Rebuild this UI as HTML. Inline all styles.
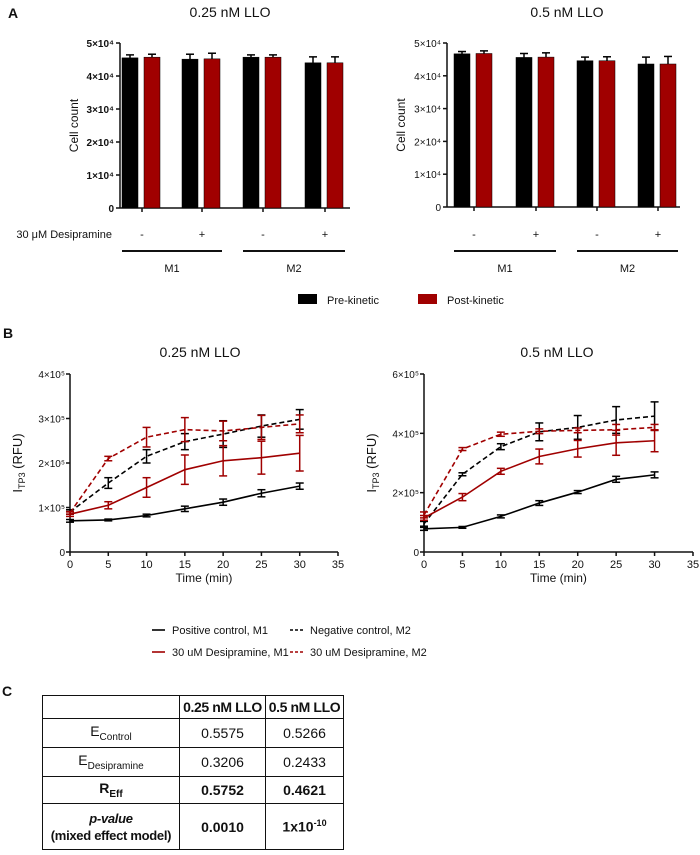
<!DOCTYPE html>
<html><head><meta charset="utf-8">
<style>
html,body{margin:0;padding:0;background:#fff;}
#root{position:relative;width:700px;height:855px;overflow:hidden;font-family:"Liberation Sans",sans-serif;}
svg text{font-family:"Liberation Sans",sans-serif;}
#tbl{position:absolute;left:42px;top:695px;border-collapse:collapse;font-family:"Liberation Sans",sans-serif;font-size:14px;color:#111;table-layout:fixed;}
#tbl td{border:1.5px solid #111;text-align:center;padding:0;white-space:nowrap;overflow:hidden;}
</style></head>
<body>
<div id="root">
<svg id="svg" width="700" height="855" xmlns="http://www.w3.org/2000/svg"></svg>
<table id="tbl">
<tr style="height:23px"><td style="width:136px"></td><td style="width:85px;font-weight:bold;letter-spacing:-0.4px">0.25 nM LLO</td><td style="width:77px;font-weight:bold;letter-spacing:-0.4px">0.5 nM LLO</td></tr>
<tr style="height:29px"><td>E<sub style="font-size:10px">Control</sub></td><td>0.5575</td><td>0.5266</td></tr>
<tr style="height:29px"><td>E<sub style="font-size:10px">Desipramine</sub></td><td>0.3206</td><td>0.2433</td></tr>
<tr style="height:27px;font-weight:bold"><td>R<sub style="font-size:10px">Eff</sub></td><td>0.5752</td><td>0.4621</td></tr>
<tr style="height:46px;font-weight:bold"><td style="font-size:13px;letter-spacing:-0.3px;line-height:17px"><i>p-value</i><br>(mixed effect model)</td><td>0.0010</td><td>1x10<sup style="font-size:9px">-10</sup></td></tr>
</table>
</div>
<script>
// ---- Panel A data ----
const barGroups = ["M1 -", "M1 +", "M2 -", "M2 +"];
const preLeft = [45500, 45100, 45700, 44000];
const postLeft = [45700, 45200, 45700, 44000];
const preLeftErr = [900, 1500, 700, 1800];
const postLeftErr = [900, 1700, 700, 1800];
const preRight = [46700, 45600, 44600, 43600];
const postRight = [46800, 45700, 44600, 43600];
const preRightErr = [700, 1200, 1100, 2100];
const postRightErr = [800, 1300, 1200, 2300];
const barTicks = [0, 10000, 20000, 30000, 40000, 50000];
const barTickLabels = ["0", "1×10⁴", "2×10⁴", "3×10⁴", "4×10⁴", "5×10⁴"];
// ---- Panel B data ----
const times = [0, 5, 10, 15, 20, 25, 30];
const xTicks = [0, 5, 10, 15, 20, 25, 30, 35];
const posM1Left = [70000, 72000, 82000, 97000, 112000, 132000, 148000];
const posM1LeftErr = [3000, 2000, 3000, 6000, 7000, 8000, 7000];
const negM2Left = [90000, 155000, 215000, 248000, 265000, 283000, 298000];
const negM2LeftErr = [5000, 12000, 15000, 18000, 30000, 25000, 22000];
const desM1Left = [85000, 105000, 145000, 185000, 205000, 212000, 222000];
const desM1LeftErr = [5000, 8000, 22000, 33000, 34000, 37000, 40000];
const desM2Left = [88000, 210000, 258000, 275000, 272000, 280000, 288000];
const desM2LeftErr = [3000, 5000, 22000, 27000, 22000, 27000, 20000];
const posM1Right = [78000, 83000, 120000, 165000, 202000, 245000, 260000];
const posM1RightErr = [5000, 3000, 5000, 8000, 5000, 10000, 10000];
const negM2Right = [95000, 262000, 355000, 405000, 420000, 445000, 458000];
const negM2RightErr = [8000, 5000, 10000, 30000, 40000, 45000, 48000];
const desM1Right = [115000, 185000, 272000, 322000, 348000, 368000, 375000];
const desM1RightErr = [8000, 12000, 10000, 25000, 28000, 42000, 37000];
const desM2Right = [125000, 347000, 397000, 407000, 410000, 412000, 420000];
const desM2RightErr = [10000, 5000, 7000, 8000, 8000, 18000, 10000];
const lineTicksLeft = [0, 100000, 200000, 300000, 400000];
const lineTickLabelsLeft = ["0", "1×10⁵", "2×10⁵", "3×10⁵", "4×10⁵"];
const lineTicksRight = [0, 200000, 400000, 600000];
const lineTickLabelsRight = ["0", "2×10⁵", "4×10⁵", "6×10⁵"];

const RED = "#a00000";
const svg = document.getElementById('svg');
const NS = "http://www.w3.org/2000/svg";
function mk(tag, attrs, parent, txt) {
  const e = document.createElementNS(NS, tag);
  for (const k in attrs) e.setAttribute(k, attrs[k]);
  if (txt !== undefined) e.textContent = txt;
  (parent || svg).appendChild(e);
  return e;
}
function text(x, y, s, size, anchor, extra, name) {
  const t = mk('text', Object.assign({x: x, y: y, 'font-size': size, 'text-anchor': anchor || 'start', fill: '#111'}, extra || {}), svg, s);
  
  
  return t;
}

text(8, 18, "A", 14, 'start', {'font-weight': 'bold'}, 'panel-a-label');
text(3, 338, "B", 14, 'start', {'font-weight': 'bold'}, 'panel-b-label');
text(2, 696, "C", 14, 'start', {'font-weight': 'bold'}, 'panel-c-label');

function barChart(o) {
  const g = mk('g', {});
  
  
  const y = v => o.y0 - (v / 50000) * (o.y0 - o.y5);
  text(o.titleX, 17, o.title, 14, 'middle', {}, o.name + '-title');
  mk('line', {x1: o.ax, y1: o.y5, x2: o.ax, y2: o.y0, stroke: '#111', 'stroke-width': 1.5}, g);
  mk('line', {x1: o.ax, y1: o.y0, x2: o.axEnd, y2: o.y0, stroke: '#111', 'stroke-width': 1.5}, g);
  barTicks.forEach((t, i) => {
    mk('line', {x1: o.ax - 4, y1: y(t), x2: o.ax, y2: y(t), stroke: '#111', 'stroke-width': 1.5}, g);
    text(o.ax - 6, y(t) + 4, barTickLabels[i], 10, 'end', o.bold ? {'font-weight': 'bold'} : {}, 'y-tick-label');
  });
  text(o.ax - 42, (o.y0 + o.y5) / 2, "Cell count", 12, 'middle', {transform: `rotate(-90 ${o.ax - 42} ${(o.y0 + o.y5) / 2})`}, 'y-axis-title');
  barGroups.forEach((gname, i) => {
    const c = o.centers[i];
    mk('line', {x1: c, y1: o.y0, x2: c, y2: o.y0 + 4, stroke: '#111', 'stroke-width': 1.5}, g);
    [[o.pre, o.preErr, '#000', c - 20], [o.post, o.postErr, RED, c + 2]].forEach(([vals, errs, col, bx], k) => {
      const v = vals[i], e = errs[i], w = 16;
      const r = mk('rect', {x: bx, y: y(v), width: w, height: o.y0 - y(v), fill: col, stroke: '#000', 'stroke-width': 0.5}, g);
      
      
      mk('line', {x1: bx + w / 2, y1: y(v), x2: bx + w / 2, y2: y(v + e), stroke: '#000', 'stroke-width': 1.5}, g);
      mk('line', {x1: bx + w / 2 - 4, y1: y(v + e), x2: bx + w / 2 + 4, y2: y(v + e), stroke: '#000', 'stroke-width': 1.5}, g);
    });
    text(c, 238, i % 2 ? "+" : "-", 11, 'middle', {}, 'desipramine-sign');
  });
  mk('line', {x1: o.centers[0] - 20, y1: 251, x2: o.centers[1] + 20, y2: 251, stroke: '#111', 'stroke-width': 2}, g);
  mk('line', {x1: o.centers[2] - 20, y1: 251, x2: o.centers[3] + 20, y2: 251, stroke: '#111', 'stroke-width': 2}, g);
  text((o.centers[0] + o.centers[1]) / 2, 272, "M1", 11, 'middle', {}, 'group-m1-label');
  text((o.centers[2] + o.centers[3]) / 2, 272, "M2", 11, 'middle', {}, 'group-m2-label');
}
barChart({name: 'bar-chart-025', title: "0.25 nM LLO", titleX: 230, ax: 120, axEnd: 350, y0: 208, y5: 43,
  centers: [142, 202, 263, 325], pre: preLeft, post: postLeft, preErr: preLeftErr, postErr: postLeftErr, bold: true});
barChart({name: 'bar-chart-05', title: "0.5 nM LLO", titleX: 567, ax: 447, axEnd: 680, y0: 207, y5: 43,
  centers: [474, 536, 597, 658], pre: preRight, post: postRight, preErr: preRightErr, postErr: postRightErr, bold: false});
text(112, 238, "30 μM Desipramine", 11, 'end', {}, 'desipramine-row-label');
let r1 = mk('rect', {x: 298, y: 294, width: 19, height: 10, fill: '#000'});  
text(327, 304, "Pre-kinetic", 11, 'start', {}, 'legend-pre-kinetic');
let r2 = mk('rect', {x: 418, y: 294, width: 19, height: 10, fill: RED});  
text(447, 304, "Post-kinetic", 11, 'start', {}, 'legend-post-kinetic');

function lineChart(o) {
  const g = mk('g', {});
  
  
  const x = t => o.ax + t / 35 * (o.x35 - o.ax);
  const y = v => o.y0 - v / o.ymax * (o.y0 - o.ytop);
  text(o.titleX, 357, o.title, 14, 'middle', {}, o.name + '-title');
  mk('line', {x1: o.ax, y1: o.ytop, x2: o.ax, y2: o.y0, stroke: '#111', 'stroke-width': 1.5}, g);
  mk('line', {x1: o.ax, y1: o.y0, x2: o.x35, y2: o.y0, stroke: '#111', 'stroke-width': 1.5}, g);
  o.yt.forEach((t, i) => {
    mk('line', {x1: o.ax - 4, y1: y(t), x2: o.ax, y2: y(t), stroke: '#111', 'stroke-width': 1.5}, g);
    text(o.ax - 5, y(t) + 4, o.ytl[i], 10, 'end', {}, 'y-tick-label');
  });
  xTicks.forEach(t => {
    mk('line', {x1: x(t), y1: o.y0, x2: x(t), y2: o.y0 + 4, stroke: '#111', 'stroke-width': 1.5}, g);
    text(x(t), o.y0 + 16, String(t), 11, 'middle', {}, 'x-tick-label');
  });
  text((o.ax + o.x35) / 2, o.y0 + 30, "Time (min)", 12, 'middle', {}, 'x-axis-title');
  const cx = o.ax - 48, cy = (o.y0 + o.ytop) / 2;
  const yt = mk('text', {x: cx, y: cy, 'font-size': 13, 'text-anchor': 'middle', fill: '#111', transform: `rotate(-90 ${cx} ${cy})`});
  
  
  mk('tspan', {}, yt, "I");
  mk('tspan', {'font-size': 9, dy: 3}, yt, "TP3");
  mk('tspan', {dy: -3}, yt, " (RFU)");
  o.series.forEach(s => {
    const pts = times.map((t, i) => x(t) + ',' + y(s.v[i])).join(' ');
    const pl = mk('polyline', {points: pts, fill: 'none', stroke: s.c, 'stroke-width': 1.6, 'stroke-dasharray': s.d ? '5,3' : 'none'}, g);
    
    
    times.forEach((t, i) => {
      const xx = x(t), a = y(s.v[i] + s.e[i]), b = y(s.v[i] - s.e[i]);
      mk('line', {x1: xx, y1: a, x2: xx, y2: b, stroke: s.c, 'stroke-width': 1.5}, g);
      mk('line', {x1: xx - 4, y1: a, x2: xx + 4, y2: a, stroke: s.c, 'stroke-width': 1.5}, g);
      mk('line', {x1: xx - 4, y1: b, x2: xx + 4, y2: b, stroke: s.c, 'stroke-width': 1.5}, g);
    });
  });
}
lineChart({name: 'line-chart-025', title: "0.25 nM LLO", titleX: 200, ax: 70, x35: 338, y0: 552, ytop: 374, ymax: 400000,
  yt: lineTicksLeft, ytl: lineTickLabelsLeft, series: [
  {n: 'positive-control-m1', v: posM1Left, e: posM1LeftErr, c: '#000', d: false},
  {n: 'negative-control-m2', v: negM2Left, e: negM2LeftErr, c: '#000', d: true},
  {n: 'desipramine-m1', v: desM1Left, e: desM1LeftErr, c: RED, d: false},
  {n: 'desipramine-m2', v: desM2Left, e: desM2LeftErr, c: RED, d: true}]});
lineChart({name: 'line-chart-05', title: "0.5 nM LLO", titleX: 557, ax: 424, x35: 693, y0: 552, ytop: 374, ymax: 600000,
  yt: lineTicksRight, ytl: lineTickLabelsRight, series: [
  {n: 'positive-control-m1', v: posM1Right, e: posM1RightErr, c: '#000', d: false},
  {n: 'negative-control-m2', v: negM2Right, e: negM2RightErr, c: '#000', d: true},
  {n: 'desipramine-m1', v: desM1Right, e: desM1RightErr, c: RED, d: false},
  {n: 'desipramine-m2', v: desM2Right, e: desM2RightErr, c: RED, d: true}]});
[[152, 634, '#000', false, "Positive control, M1", 'legend-positive-control-m1'],
 [290, 634, '#000', true, "Negative control, M2", 'legend-negative-control-m2'],
 [152, 656, RED, false, "30 uM Desipramine, M1", 'legend-desipramine-m1'],
 [290, 656, RED, true, "30 uM Desipramine, M2", 'legend-desipramine-m2']].forEach(([lx, ly, c, d, s, n]) => {
  const l = mk('line', {x1: lx, y1: ly - 4, x2: lx + 13, y2: ly - 4, stroke: c, 'stroke-width': 1.6, 'stroke-dasharray': d ? '3,2' : 'none'});
  
  
  text(lx + 20, ly, s, 11, 'start', {}, n);
});
</script>
</body></html>
